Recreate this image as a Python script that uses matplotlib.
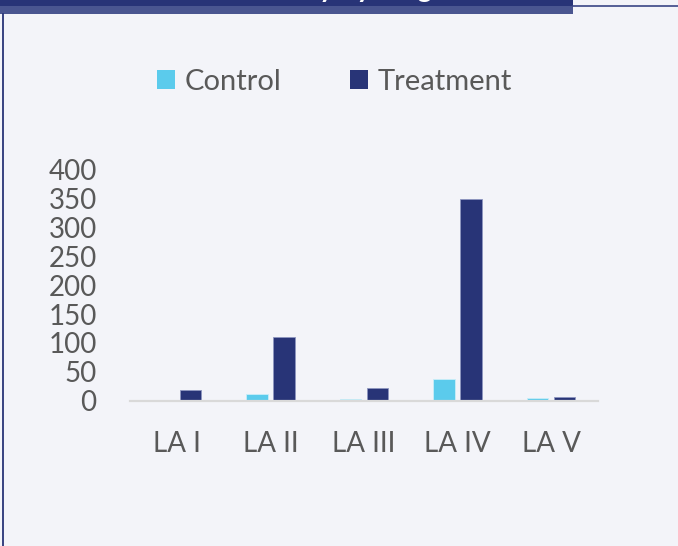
import matplotlib
matplotlib.use("Agg")
import matplotlib.pyplot as plt
import numpy as np
from matplotlib.patches import Rectangle
from matplotlib.lines import Line2D

categories = ["LA I", "LA II", "LA III", "LA IV", "LA V"]
control = [0, 11, 3, 38, 4]
treatment = [19, 110, 22, 350, 6]
yticks = [0, 50, 100, 150, 200, 250, 300, 350, 400]

BG = "#F3F4F9"
NAVY = "#283477"
CYAN = "#5BCBEC"
TEXT = "#595959"

plt.rcParams["font.family"] = ["Lato", "DejaVu Sans"]

W, H = 678, 546
fig = plt.figure(figsize=(W / 100, H / 100), dpi=100, facecolor=BG)

# chart frame pieces (banner on top, thin border lines)
fig.patches.append(Rectangle((0, 1 - 6 / H), 573 / W, 6 / H, transform=fig.transFigure,
                             facecolor=NAVY, edgecolor="none", zorder=0))
fig.patches.append(Rectangle((0, 1 - 14 / H), 573 / W, 8 / H, transform=fig.transFigure,
                             facecolor="#4A5690", edgecolor="none", zorder=0))
fig.lines.append(Line2D([573 / W, 1], [1 - 5.5 / H, 1 - 5.5 / H], transform=fig.transFigure,
                        color="#3A4585", linewidth=1.2))
fig.lines.append(Line2D([2.5 / W, 2.5 / W], [0, 1 - 14 / H], transform=fig.transFigure,
                        color=NAVY, linewidth=1.3))
# title is cut off at the top edge in the reference, only descenders show
fig.text(342 / W, 1 + 3.3 / H, "Activity by Stage", color="white", fontsize=20,
         fontweight="bold", ha="center", va="baseline")

ax = fig.add_axes([130 / W, (H - 400.7) / H, 468 / W, 231 / H])
ax.set_facecolor(BG)

x = np.arange(len(categories))
bw = 0.228
off = 0.144
ax.bar(x - off, control, bw, color=CYAN, edgecolor="#C9EEF9", linewidth=0.6, label="Control")
ax.bar(x + off, treatment, bw, color=NAVY, edgecolor="#8E96C0", linewidth=0.6, label="Treatment")

ax.set_xlim(-0.5, len(categories) - 0.5)
ax.set_ylim(0, 400)
ax.set_yticks(yticks)
ax.set_yticklabels([str(v) for v in yticks])
ax.set_xticks(x)
ax.set_xticklabels(categories)
ax.tick_params(axis="both", length=0, labelsize=20, labelcolor=TEXT)
ax.tick_params(axis="y", pad=24)
ax.tick_params(axis="x", pad=22)

for s in ["top", "right", "left"]:
    ax.spines[s].set_visible(False)
ax.spines["bottom"].set_color("#D9D9D9")
ax.spines["bottom"].set_linewidth(1.6)

leg = fig.legend(loc="center left", bbox_to_anchor=(157 / W, 1 - 82 / H), ncol=2,
                 frameon=False, fontsize=21, handlelength=0.62, handleheight=0.62,
                 handletextpad=0.33, columnspacing=2.35, borderaxespad=0, borderpad=0)
for t in leg.get_texts():
    t.set_color(TEXT)
for p in leg.get_patches():
    p.set_edgecolor("none")

fig.savefig("out.png", dpi=100, facecolor=BG)
